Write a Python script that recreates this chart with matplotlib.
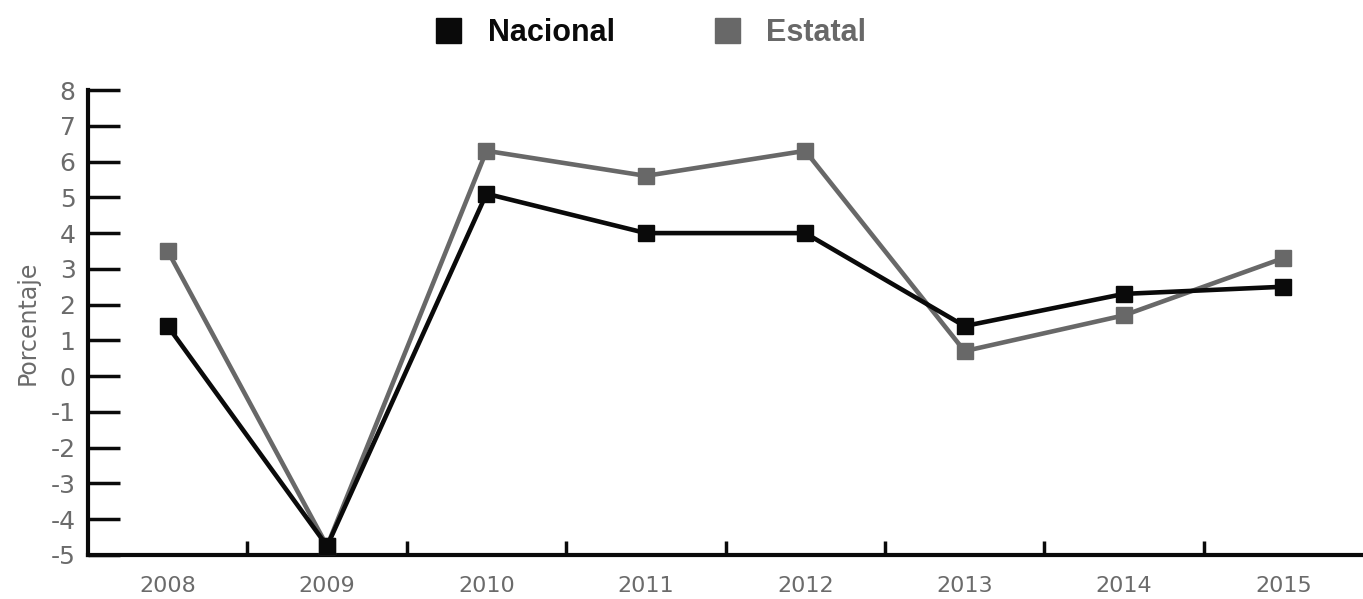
import numpy as np
import matplotlib.pyplot as plt
from matplotlib.lines import Line2D

# Datos
anios = ['2008', '2009', '2010', '2011', '2012', '2013', '2014', '2015']
nacional = [1.4, -4.75, 5.1, 4.0, 4.0, 1.4, 2.3, 2.5]
estatal = [3.5, -4.75, 6.3, 5.6, 6.3, 0.7, 1.7, 3.3]
y_ticks = list(range(-5, 9))

col_nac = '#0a0a0a'
col_est = '#686868'
col_txt = '#6b6b6b'

fig = plt.figure(figsize=(13.63, 5.99), dpi=100)
ax = fig.add_axes([0.0646, 0.0735, 0.9354, 0.7762])

x = np.arange(len(anios))
ax.plot(x, estatal, color=col_est, linewidth=3.3, marker='s', markersize=12, zorder=3)
ax.plot(x, nacional, color=col_nac, linewidth=3.3, marker='s', markersize=12, zorder=4)

ax.set_xlim(-0.5, len(anios) - 0.5)
ax.set_ylim(-5, 8)

# Ejes
for s in ['top', 'right']:
    ax.spines[s].set_visible(False)
ax.spines['left'].set_linewidth(3)
ax.spines['bottom'].set_linewidth(3)
ax.spines['left'].set_color(col_nac)
ax.spines['bottom'].set_color(col_nac)

ax.set_yticks(y_ticks)
ax.set_yticklabels([str(v) for v in y_ticks])
ax.tick_params(axis='y', direction='in', length=23, width=2.5, color=col_nac,
               labelsize=18, labelcolor=col_txt, pad=9)

ax.set_xticks(x)
ax.set_xticklabels(anios)
ax.tick_params(axis='x', which='major', length=0, labelsize=16, labelcolor=col_txt, pad=15)
ax.set_xticks(x[:-1] + 0.5, minor=True)
ax.tick_params(axis='x', which='minor', direction='in', length=10, width=2.5, color=col_nac)

ax.set_ylabel('Porcentaje', fontsize=17, color=col_txt, labelpad=8)

# Leyenda
handles = [Line2D([], [], color=col_nac, marker='s', linestyle='none', markersize=18),
           Line2D([], [], color=col_est, marker='s', linestyle='none', markersize=18)]
leg = fig.legend(handles, ['Nacional', 'Estatal'], loc='center', bbox_to_anchor=(0.471, 0.945),
                 ncol=2, frameon=False, columnspacing=2.65, handletextpad=0.3,
                 prop={'family': 'Liberation Sans', 'weight': 'bold', 'size': 22})
for t, c in zip(leg.get_texts(), [col_nac, col_est]):
    t.set_color(c)

plt.savefig('out.png', dpi=100)
